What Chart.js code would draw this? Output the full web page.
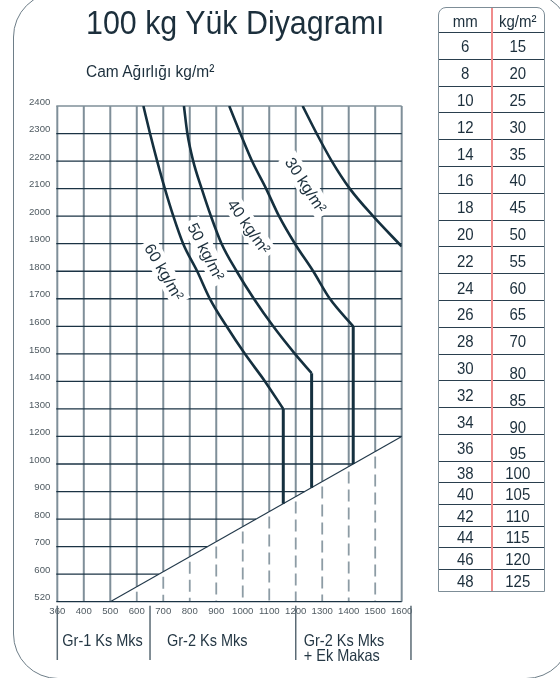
<!DOCTYPE html>
<html>
<head>
<meta charset="utf-8">
<title>100 kg Yük Diyagramı</title>
<script src="https://cdn.jsdelivr.net/npm/chart.js"></script>
<style>
    body { margin: 0; width: 560px; height: 678px; overflow: hidden; background: #fff; position: relative;
           font-family: "Liberation Sans", Arial, sans-serif; color: #1c2f3c; }
    #frame { position: absolute; left: 13px; top: -8px; width: 558px; height: 687px; box-sizing: border-box;
             border: 1.3px solid #6e7e88; border-radius: 45px; }
    #chart { position: absolute; left: 0; top: 0; }
    .txt { position: absolute; white-space: nowrap; line-height: 1; transform-origin: left top; }
    #title { left: 86px; top: 6px; font-size: 30.4px; transform: scaleY(1.07); }
    #subtitle { left: 86px; top: 63px; font-size: 15.5px; transform: scaleY(1.1); }
    .group { font-size: 14.5px; transform: scaleY(1.15); color: #253845; }
    #table { position: absolute; left: 438px; top: 7px; width: 107px; box-sizing: border-box;
             border: 1.5px solid #7d8d97; border-radius: 8px 8px 0 0; }
    .row { display: flex; box-sizing: border-box; border-bottom: 1px solid #2a3f4e; }
    .row:last-child { border-bottom: none; }
    .cell { width: 50%; display: flex; align-items: center; justify-content: center; font-size: 15px; }
    .cell span { display: inline-block; transform: scaleY(1.14); }
    #divider { position: absolute; left: 52px; top: 0; bottom: 0; width: 1.5px; background: #f08c8c; }
</style>
</head>
<body>
    <div id="frame"></div>
    <canvas id="chart" width="560" height="678"></canvas>
    <div id="title" class="txt">100 kg Yük Diyagramı</div>
    <div id="subtitle" class="txt">Cam Ağırlığı kg/m²</div>
    <div id="table"><div id="divider"></div></div>

    <script>
        // axis ticks (evenly spaced on the drawing, not linear in value)
        const xTicks = [360, 400, 500, 600, 700, 800, 900, 1000, 1100, 1200, 1300, 1400, 1500, 1600];
        const yTicks = [520, 600, 700, 800, 900, 1000, 1200, 1300, 1400, 1500, 1600, 1700, 1800, 1900, 2000, 2100, 2200, 2300, 2400];

        // load curves: width (mm) read at each height (mm)
        const h60 = [2400, 2300, 2200, 2100, 2000, 1900, 1800, 1700, 1600, 1500, 1400, 1300];
        const w60 = [625, 650, 677, 706, 738, 775, 828, 876, 939, 1008, 1084, 1153];
        const h50 = [2400, 2300, 2200, 2100, 2000, 1900, 1800, 1700, 1600, 1500, 1430];
        const w50 = [778, 791, 813, 845, 880, 920, 977, 1042, 1115, 1197, 1260];
        const h40 = [2400, 2300, 2200, 2100, 2000, 1900, 1800, 1700, 1600];
        const w40 = [949, 991, 1035, 1088, 1137, 1197, 1266, 1329, 1417];
        const h30 = [2400, 2300, 2200, 2100, 2000, 1890];
        const w30 = [1226, 1279, 1336, 1404, 1492, 1600];

        // vertical drops of 60, 50, 40 curves down to the limit line
        const dropW = [1153, 1260, 1417];
        const dropTop = [1300, 1430, 1600];
        const dropBottom = [856, 914, 1000];

        // lower limit line
        const limitW = [500, 1600];
        const limitH = [520, 1200];

        const curveLabels = ['60 kg/m²', '50 kg/m²', '40 kg/m²', '30 kg/m²'];
        const labelW = [703, 861, 1023, 1238];
        const labelH = [1797, 1871, 1962, 2113];
        const labelAngle = [60, 63, 55, 57];

        const groupEdges = [360, 650, 1200, 1635];
        const groupNames = [['Gr-1 Ks Mks'], ['Gr-2 Ks Mks'], ['Gr-2 Ks Mks', '+ Ek Makas']];

        const thicknessMm = [6, 8, 10, 12, 14, 16, 18, 20, 22, 24, 26, 28, 30, 32, 34, 36, 38, 40, 42, 44, 46, 48];
        const weightKg = [15, 20, 25, 30, 35, 40, 45, 50, 55, 60, 65, 70, 80, 85, 90, 95, 100, 105, 110, 115, 120, 125];

        const ink = '#15303f';

        function toIdx(ticks, v) {
            for (let i = 0; i < ticks.length - 1; i++) {
                if (v <= ticks[i + 1] || i === ticks.length - 2) {
                    return i + (v - ticks[i]) / (ticks[i + 1] - ticks[i]);
                }
            }
        }

        function pts(ws, hs) {
            return ws.map((w, i) => ({ x: toIdx(xTicks, w), y: toIdx(yTicks, hs[i]) }));
        }

        const datasets = [];
        [[w60, h60], [w50, h50], [w40, h40], [w30, h30]].forEach(([ws, hs]) => {
            datasets.push({ data: pts(ws, hs), borderColor: ink, borderWidth: 2.6, cubicInterpolationMode: 'monotone' });
        });
        dropW.forEach((w, i) => {
            datasets.push({ data: pts([w, w], [dropTop[i], dropBottom[i]]), borderColor: ink, borderWidth: 3, tension: 0 });
        });
        datasets.push({ data: pts(limitW, limitH), borderColor: '#22394a', borderWidth: 1.2, tension: 0 });

        const gridPlugin = {
            id: 'grid',
            beforeDatasetsDraw(chart) {
                const { ctx, chartArea: a, scales: { x, y } } = chart;
                const x0 = x.getPixelForValue(toIdx(xTicks, limitW[0]));
                const y0 = y.getPixelForValue(toIdx(yTicks, limitH[0]));
                const x1 = x.getPixelForValue(toIdx(xTicks, limitW[1]));
                const y1 = y.getPixelForValue(toIdx(yTicks, limitH[1]));
                const diagY = px => y0 + (px - x0) * (y1 - y0) / (x1 - x0);
                const diagX = py => x0 + (py - y0) * (x1 - x0) / (y1 - y0);
                const seg = (ax, ay, bx, by) => { ctx.beginPath(); ctx.moveTo(ax, ay); ctx.lineTo(bx, by); ctx.stroke(); };

                ctx.save();
                // vertical lines, dashed under the limit line
                xTicks.forEach((t, i) => {
                    const px = x.getPixelForValue(i);
                    const cut = (i > 2 && i < xTicks.length - 1) ? diagY(px) : a.bottom;
                    ctx.setLineDash([]);
                    ctx.strokeStyle = '#7f8f99';
                    ctx.lineWidth = 2;
                    seg(px, a.top, px, cut);
                    if (cut < a.bottom - 2) {
                        ctx.setLineDash([12, 6]);
                        ctx.strokeStyle = '#8d9ca5';
                        ctx.lineWidth = 1.8;
                        seg(px, cut + 5, px, a.bottom);
                    }
                });
                ctx.setLineDash([]);
                // horizontal lines stop at the limit line
                yTicks.forEach((t, j) => {
                    const py = y.getPixelForValue(j);
                    const end = j === 0 ? a.right : Math.min(a.right, diagX(py));
                    ctx.strokeStyle = j === yTicks.length - 1 ? '#7f8f99' : '#1b3344';
                    ctx.lineWidth = j === yTicks.length - 1 ? 1.5 : 1.3;
                    seg(a.left - 1, py, end, py);
                });

                // curve labels on white boxes
                ctx.font = '16px "Liberation Sans", Arial, sans-serif';
                ctx.textAlign = 'center';
                ctx.textBaseline = 'middle';
                curveLabels.forEach((txt, k) => {
                    const cx = x.getPixelForValue(toIdx(xTicks, labelW[k]));
                    const cy = y.getPixelForValue(toIdx(yTicks, labelH[k]));
                    ctx.save();
                    ctx.translate(cx, cy);
                    ctx.rotate(labelAngle[k] * Math.PI / 180);
                    const w = ctx.measureText(txt).width;
                    ctx.fillStyle = '#fff';
                    ctx.fillRect(-w / 2 - 4, -10, w + 8, 20);
                    ctx.fillStyle = '#1c2f3c';
                    ctx.fillText(txt, 0, 1);
                    ctx.restore();
                });
                ctx.restore();
            },
            afterDraw(chart) {
                const { ctx, chartArea: a, scales: { x } } = chart;
                ctx.save();
                ctx.strokeStyle = '#5a6a74';
                ctx.lineWidth = 1.5;
                groupEdges.forEach(g => {
                    const px = x.getPixelForValue(toIdx(xTicks, g));
                    ctx.beginPath();
                    ctx.moveTo(px, a.bottom + 4);
                    ctx.lineTo(px, 660);
                    ctx.stroke();
                });
                ctx.restore();
            }
        };

        const tickFont = { family: '"Liberation Sans", Arial, sans-serif', size: 9.6 };

        const chart = new Chart(document.getElementById('chart'), {
            type: 'line',
            data: { datasets: datasets.map(d => Object.assign({ fill: false, pointRadius: 0 }, d)) },
            options: {
                responsive: false,
                animation: false,
                layout: { padding: { left: 20, top: 106, right: 158.3, bottom: 56.3 } },
                plugins: { legend: { display: false }, tooltip: { enabled: false } },
                scales: {
                    x: {
                        type: 'linear', min: 0, max: xTicks.length - 1,
                        grid: { display: false, drawTicks: false },
                        border: { display: false },
                        afterBuildTicks: s => { s.ticks = xTicks.map((t, i) => ({ value: i })); },
                        afterFit: s => { s.height = 20; },
                        ticks: { autoSkip: false, maxRotation: 0, padding: 4, color: '#4f5a61', font: tickFont,
                                 callback: v => xTicks[v] }
                    },
                    y: {
                        type: 'linear', min: 0, max: yTicks.length - 1,
                        grid: { display: false, drawTicks: false },
                        border: { display: false },
                        afterBuildTicks: s => { s.ticks = yTicks.map((t, i) => ({ value: i })); },
                        afterFit: s => { s.width = 37.3; },
                        ticks: { autoSkip: false, padding: 7, labelOffset: -4, color: '#4f5a61', font: tickFont,
                                 callback: v => yTicks[v] }
                    }
                }
            },
            plugins: [gridPlugin]
        });

        // group captions under the x axis
        const groupOffset = [5, 17, 8];
        groupNames.forEach((lines, g) => {
            const left = chart.scales.x.getPixelForValue(toIdx(xTicks, groupEdges[g])) + groupOffset[g];
            lines.forEach((line, k) => {
                const div = document.createElement('div');
                div.className = 'txt group';
                div.textContent = line;
                div.style.left = left + 'px';
                div.style.top = (632 + k * 15) + 'px';
                document.body.appendChild(div);
            });
        });

        // thickness / weight table
        const table = document.getElementById('table');
        const addRow = (a, b, h, shift) => {
            const row = document.createElement('div');
            row.className = 'row';
            row.style.height = h + 'px';
            row.innerHTML = '<div class="cell"><span>' + a + '</span></div>' +
                '<div class="cell"><span' + (shift ? ' style="transform: translateY(5px) scaleY(1.14)"' : '') + '>' + b + '</span></div>';
            table.appendChild(row);
        };
        addRow('mm', 'kg/m²', 25, false);
        thicknessMm.forEach((mm, i) => {
            addRow(mm, weightKg[i], mm <= 36 ? 26.8 : 21.6, mm >= 30 && mm <= 36);
        });
    </script>
</body>
</html>
